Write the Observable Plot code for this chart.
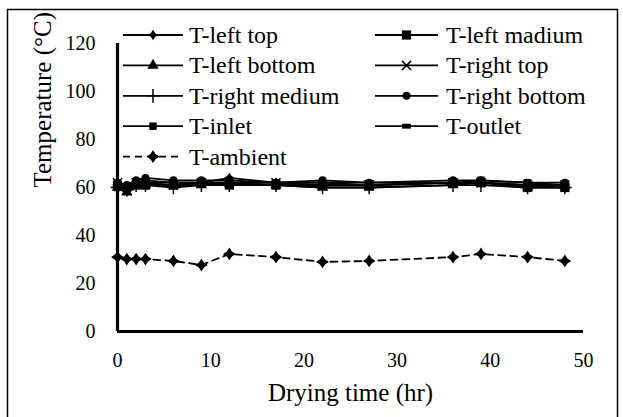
<!DOCTYPE html>
<html><head><meta charset="utf-8">
<script src="https://cdn.jsdelivr.net/npm/d3@7"></script>
<script src="https://cdn.jsdelivr.net/npm/@observablehq/plot@0.6"></script>
</head><body style="margin:0;background:#fff">
<div id="p"></div>
<script>
// ---- data ----
const times = [0, 1, 2, 3, 6, 9, 12, 17, 22, 27, 36, 39, 44, 48];
const seriesNames = ["T-left top", "T-left madium", "T-left bottom", "T-right top", "T-right medium", "T-right bottom", "T-inlet", "T-outlet", "T-ambient"];
const tLeftTop      = [61, 60, 62, 63, 62, 62, 64, 62, 62, 61, 62, 62, 61, 61];
const tLeftMedium   = [61, 60, 61, 61, 61, 62, 61, 61, 61, 61, 62, 62, 60, 60];
const tLeftBottom   = [60, 58, 61, 61, 61, 61, 62, 61, 60, 60, 61, 62, 60, 61];
const tRightTop     = [62, 59, 62, 62, 61, 62, 62, 62, 61, 61, 62, 62, 61, 61];
const tRightMedium  = [60, 59, 61, 61, 60, 61, 61, 61, 60, 60, 61, 61, 60, 60];
const tRightBottom  = [62, 61, 63, 64, 63, 63, 63, 62, 63, 62, 63, 63, 62, 62];
const tInlet        = [60, 60, 61, 61, 61, 62, 61, 61, 61, 61, 62, 63, 62, 61];
const tOutlet       = [61, 60, 61, 62, 62, 62, 62, 62, 62, 62, 62, 62, 61, 61];
const tAmbient      = [31, 30.2, 30.2, 30.2, 29.4, 27.7, 32.3, 31, 29, 29.4, 31, 32.3, 31, 29.4];
const xTicks = [0, 10, 20, 30, 40, 50];
const yTicks = [0, 20, 40, 60, 80, 100, 120];
const xTitle = "Drying time (hr)";
const yTitle = "Temperature (°C)";

const seriesValues = [tLeftTop, tLeftMedium, tLeftBottom, tRightTop, tRightMedium, tRightBottom, tInlet, tOutlet, tAmbient];

// ---- styling ----
const FONT = "Liberation Serif";
const FONT_LIST = '"Liberation Serif", "Times New Roman", Times, serif';
const rectSymbol = {draw(ctx, size) { const w = Math.sqrt(size) * 1.25, h = w * 0.55; ctx.moveTo(-w/2, -h/2); ctx.lineTo(w/2, -h/2); ctx.lineTo(w/2, h/2); ctx.lineTo(-w/2, h/2); ctx.closePath(); }};
const diamondSymbol = {draw(ctx, size) { const r = Math.sqrt(size) * 0.62, k = r * 0.4; ctx.moveTo(0, -r); ctx.lineTo(k, -k); ctx.lineTo(r, 0); ctx.lineTo(k, k); ctx.lineTo(0, r); ctx.lineTo(-k, k); ctx.lineTo(-r, 0); ctx.lineTo(-k, -k); ctx.closePath(); }};
const styles = [
  {symbol: diamondSymbol, r: 4.8, filled: true},
  {symbol: d3.symbolSquare, r: 5.2, filled: true},
  {symbol: d3.symbolTriangle, r: 4.2, filled: true},
  {symbol: d3.symbolTimes, r: 4.2, filled: false},
  {symbol: d3.symbolPlus, r: 4.5, filled: false},
  {symbol: d3.symbolCircle, r: 4, filled: true},
  {symbol: d3.symbolSquare, r: 4.2, filled: true},
  {symbol: rectSymbol, r: 4, filled: true},
  {symbol: diamondSymbol, r: 5.8, filled: true, dashed: true}
];

const table = [];
seriesNames.forEach((name, i) => times.forEach((t, j) => table.push({series: name, idx: i, time: t, value: seriesValues[i][j]})));

const marks = [];
seriesNames.forEach((name, i) => {
  const data = table.filter(d => d.series === name);
  const st = styles[i];
  marks.push(Plot.line(data, {x: "time", y: "value", stroke: "#000", strokeWidth: 1.8, strokeDasharray: st.dashed ? "7,5" : null}));
});
seriesNames.forEach((name, i) => {
  const data = table.filter(d => d.series === name);
  const st = styles[i];
  marks.push(Plot.dot(data, {x: "time", y: "value", symbol: () => st.symbol, r: st.r,
    fill: st.filled ? "#000" : "none", stroke: st.filled ? "none" : "#000", strokeWidth: 1.5}));
});

const chart = Plot.plot({
  width: 623, height: 417,
  marginLeft: 117, marginRight: 40, marginTop: 43, marginBottom: 86,
  style: {fontFamily: FONT, fontSize: "20px", color: "#000"},
  x: {domain: [0, 50]},
  y: {domain: [0, 120]},
  symbol: {type: "identity"},
  marks: [
    Plot.axisX({ticks: xTicks, tickSize: 0, tickPadding: 21, label: null, fontSize: 20}),
    Plot.axisY({ticks: yTicks, tickSize: 0, tickPadding: 22, label: null, fontSize: 20}),
    Plot.text([xTitle], {frameAnchor: "bottom", dy: 61, fontSize: 25, lineAnchor: "middle", text: d => d}),
    Plot.text([yTitle], {frameAnchor: "left", dx: -75, rotate: -90, fontSize: 25, lineAnchor: "middle", text: d => d}),
    ...marks,
    Plot.ruleX([0], {stroke: "#000", strokeWidth: 3.2}),
    Plot.ruleY([0], {stroke: "#000", strokeWidth: 3.2})
  ]
});
document.getElementById("p").append(chart);

// ---- outer frame and legend, drawn into the same svg ----
const svg = d3.select(chart);
svg.append("path").attr("d", "M7.5,425V9.5H617.5V425").attr("fill", "none").attr("stroke", "#000").attr("stroke-width", 1.5);
const lg = svg.append("g").attr("text-anchor", "start");
const colX = [{x0: 123, x1: 183, tx: 189}, {x0: 375, x1: 438, tx: 446}];
seriesNames.forEach((name, i) => {
  const col = i % 2, row = Math.floor(i / 2);
  const y = 35 + row * 30.4;
  const c = colX[col];
  const st = styles[i];
  const g = lg.append("g");
  g.append("line").attr("x1", c.x0).attr("x2", c.x1).attr("y1", y).attr("y2", y)
    .attr("stroke", "#000").attr("stroke-width", 1.8).attr("stroke-dasharray", st.dashed ? "7,5" : null);
  g.append("path").attr("transform", `translate(${(c.x0 + c.x1) / 2},${y})`)
    .attr("d", d3.symbol(st.symbol, st.r * st.r * Math.PI)())
    .attr("fill", st.filled ? "#000" : "none").attr("stroke", st.filled ? "none" : "#000").attr("stroke-width", 1.5);
  g.append("text").attr("x", c.tx).attr("y", y).attr("dy", "0.33em").attr("font-size", 24)
    .attr("text-anchor", "start").attr("font-family", FONT).attr("fill", "#000").text(name);
});
// force the serif family on every text node
svg.selectAll("text").each(function() { this.style.setProperty("font-family", FONT_LIST, "important"); });
</script></body></html>
